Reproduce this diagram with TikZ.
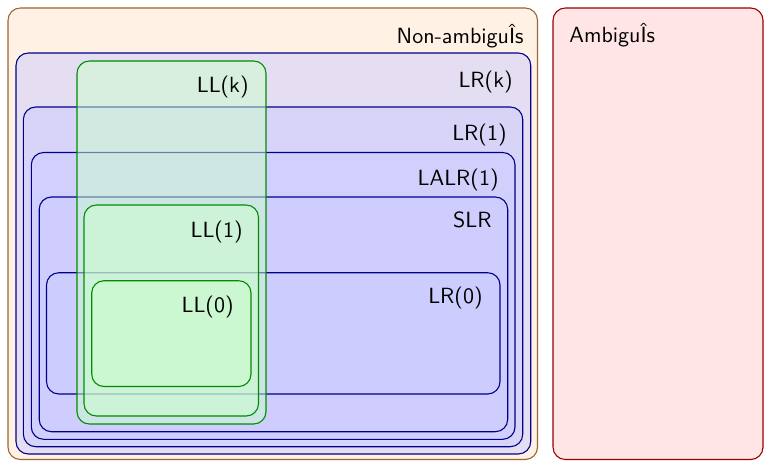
\documentclass[tikz,border=0pt]{standalone}
\begin{document}
\begin{tikzpicture}[x=0.4545pt,y=-0.4545pt,
  every node/.style={inner sep=0pt,font=\sffamily},
  box/.style={rounded corners=5.6pt,line width=0.5pt},
  orangebox/.style={box,draw=brown!80!black,fill=orange!10},
  redbox/.style={box,draw=red!60!black,fill=red!10},
  bluebox/.style={box,draw=blue!55!black,fill=blue!20,fill opacity=0.5},
  greenbox/.style={box,draw=green!55!black,fill=green!20,fill opacity=0.5},
  lab/.style={anchor=base east}]
\useasboundingbox (0,0) rectangle (765,461);
\draw[orangebox] (8,8) rectangle (537.5,459.5);
\draw[redbox] (553,8) rectangle (763,459.5);
\draw[bluebox] (16,53) rectangle (530.7,454);
\draw[bluebox] (23.4,107) rectangle (522.7,446.7);
\draw[bluebox] (31.3,152.5) rectangle (515,439.3);
\draw[bluebox] (39.2,197) rectangle (507.7,431.7);
\draw[bluebox] (46.5,272.7) rectangle (500,394);
\draw[greenbox] (77,61) rectangle (266,424);
\draw[greenbox] (84,205) rectangle (258.5,416);
\draw[greenbox] (91.7,280.7) rectangle (251,386.5);
\node[lab] (nonamb) at (524,44) {Non-ambiguÎs};
\node[anchor=base west] (amb) at (569,43) {AmbiguÎs};
\node[lab] (lrk) at (513,88) {LR(k)};
\node[lab] (lr1) at (507,140) {LR(1)};
\node[lab] (lalr) at (499,185) {LALR(1)};
\node[lab] (slr) at (492,227) {SLR};
\node[lab] (lr0) at (483,303) {LR(0)};
\node[lab] (llk) at (249,93) {LL(k)};
\node[lab] (ll1) at (243,237) {LL(1)};
\node[lab] (ll0) at (234,312) {LL(0)};
\end{tikzpicture}
\end{document}
